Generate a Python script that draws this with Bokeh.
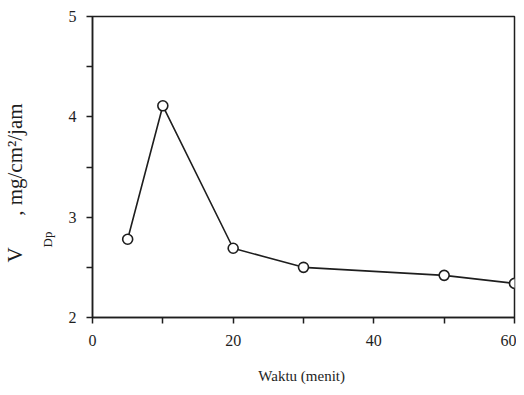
from bokeh.plotting import figure
from bokeh.models import Title, FixedTicker, Range1d
from bokeh.embed import file_html
from bokeh.resources import INLINE

waktu = [5, 10, 20, 30, 50, 60]
v_dp = [2.78, 4.11, 2.69, 2.50, 2.42, 2.34]
x_ticks = [0, 10, 20, 30, 40, 50, 60]
x_tick_labels = {0: "0", 10: "", 20: "20", 30: "", 40: "40", 50: "", 60: "60"}
y_ticks = [2, 2.5, 3, 3.5, 4, 4.5, 5]
y_tick_labels = {2: "2", 2.5: "", 3: "3", 3.5: "", 4: "4", 4.5: "", 5: "5"}
y_label_main = "V" + "\u00a0" * 6 + ", mg/cm²/jam"
y_label_sub = "Dp"
x_label = "Waktu  (menit)"

FONT = "Liberation Serif"
INK = "#1e1e1e"

p = figure(width=516, height=386, output_backend="svg", toolbar_location=None,
           x_range=Range1d(0, 60), y_range=Range1d(2, 5),
           min_border_left=92, min_border_right=2, min_border_top=16, min_border_bottom=69)
p.grid.visible = False
p.outline_line_color = INK
p.outline_line_width = 1.5
p.background_fill_color = "white"
p.border_fill_color = "white"

p.xaxis.ticker = FixedTicker(ticks=x_ticks)
p.yaxis.ticker = FixedTicker(ticks=y_ticks)
p.xaxis.major_label_overrides = x_tick_labels
p.yaxis.major_label_overrides = y_tick_labels
for ax in (p.xaxis[0], p.yaxis[0]):
    ax.axis_line_color = INK
    ax.axis_line_width = 1.5
    ax.major_tick_line_color = INK
    ax.major_tick_line_width = 1.5
    ax.minor_tick_line_color = None
    ax.major_tick_in = 0
    ax.major_tick_out = 6
    ax.major_label_text_font = FONT
    ax.major_label_text_font_size = "16px"
    ax.major_label_text_color = INK
p.xaxis.major_label_standoff = 11
p.yaxis.major_label_standoff = 10

p.xaxis.axis_label = x_label
p.xaxis.axis_label_text_font = FONT
p.xaxis.axis_label_text_font_style = "normal"
p.xaxis.axis_label_text_font_size = "15px"
p.xaxis.axis_label_text_color = INK
p.xaxis.axis_label_standoff = 19

# y-axis label with subscript, built from two stacked titles on the left
sub = Title(text=y_label_sub, align="left", offset=70, standoff=22,
            text_font=FONT, text_font_size="13px", text_font_style="normal",
            text_color=INK, text_line_height=0.6)
main = Title(text=y_label_main, align="left", offset=55, standoff=0,
             text_font=FONT, text_font_size="21px", text_font_style="normal",
             text_color=INK)
p.add_layout(sub, "left")
p.add_layout(main, "left")

p.line(waktu, v_dp, line_color=INK, line_width=1.6)
p.scatter(waktu, v_dp, marker="circle", size=10, fill_color="white",
          line_color=INK, line_width=1.6)

open("out.html", "w").write(file_html(p, INLINE))
